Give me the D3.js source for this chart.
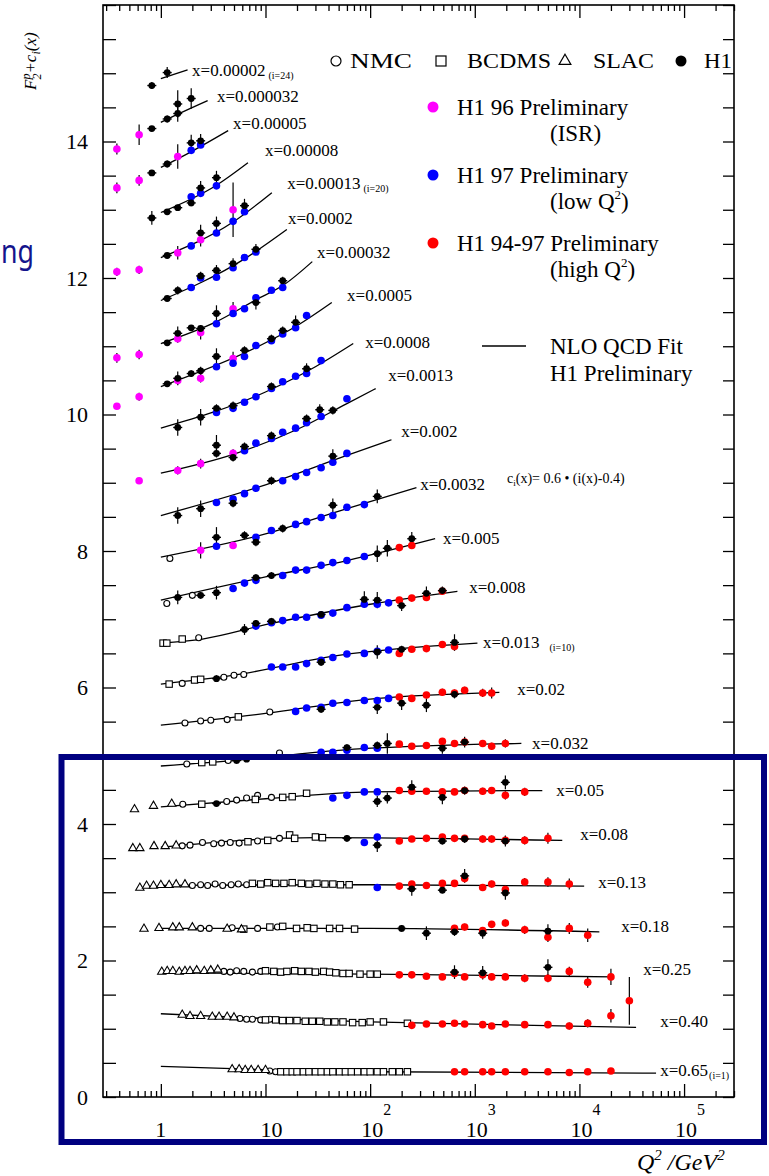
<!DOCTYPE html>
<html><head><meta charset="utf-8">
<script src="https://cdn.jsdelivr.net/npm/d3@7"></script>
<style>
body{margin:0;background:#fff;}
svg{display:block;}
text{font-family:"Liberation Serif","Times New Roman",serif;fill:#000;}
text.slide{font-family:"Noto Sans","Open Sans",sans-serif;fill:#14148c;}
</style>
</head><body>
<svg id="c" width="769" height="1176"></svg>
<script>
// ---------------- DATA ----------------
// bin i = 1..24 (index 0..23)
const binX = ["0.65","0.40","0.25","0.18","0.13","0.08","0.05","0.032","0.02","0.013","0.008","0.005",
  "0.0032","0.002","0.0013","0.0008","0.0005","0.00032","0.0002","0.00013","0.00008","0.00005","0.000032","0.00002"];
const binSub = ["(i=1)","","","","","","","","","(i=10)","","","","","","","","","","(i=20)","","","","(i=24)"];
// label anchor in data coordinates [Q2, F2+c]
const labelAt = [[59200,0.40],[59200,1.11],[40700,1.88],[25070,2.51],[15110,3.15],[10170,3.85],[6000,4.50],
  [3530,5.19],[2540,5.98],[1200,6.67],[883,7.47],[498,8.19],[301,8.98],[198,9.76],[149,10.58],[89.6,11.06],
  [60.2,11.75],[31.1,12.38],[16.4,12.88],[16.1,13.39],[9.9,13.88],[4.9,14.27],[3.44,14.67],[1.99,15.05]];

// NLO QCD fit curves, [Q2, F2+c]
const fitCurves = [
 [[1,0.45],[10,0.40],[100,0.37],[54000,0.35]],
 [[1,1.22],[10,1.15],[100,1.10],[34800,1.02]],
 [[1,1.82],[100,1.80],[20600,1.76]],
 [[1,2.47],[100,2.47],[15500,2.42]],
 [[1,3.10],[100,3.11],[11100,3.09]],
 [[1,3.66],[30,3.80],[6855,3.76]],
 [[1,4.25],[10,4.37],[100,4.47],[4418,4.49]],
 [[1,4.85],[5,4.93],[50,5.08],[2787,5.18]],
 [[1,5.45],[10,5.62],[100,5.83],[1717,5.93]],
 [[1,6.05],[5,6.18],[50,6.47],[1060,6.65]],
 [[1,6.65],[2.5,6.71],[10,6.92],[100,7.22],[682,7.41]],
 [[1,7.28],[10,7.62],[60,7.86],[418,8.18]],
 [[1,7.91],[10,8.25],[60,8.62],[277,8.93]],
 [[1,8.52],[10,8.97],[60,9.40],[160,9.63]],
 [[1,9.14],[5,9.42],[20,9.78],[60,10.16],[113,10.38]],
 [[1,9.80],[10,10.33],[30,10.70],[69,11.04]],
 [[1,10.41],[8.1,10.98],[20,11.30],[43,11.64]],
 [[1,11.04],[3.4,11.36],[8.1,11.68],[15,11.90],[28,12.24]],
 [[1,11.67],[6.3,12.28],[16,12.71]],
 [[1,12.30],[4.9,12.82],[11.5,13.25]],
 [[1,12.96],[3.4,13.36],[6.8,13.69]],
 [[1,13.62],[2,13.86],[4.4,14.16]],
 [[1,14.28],[1.45,14.40],[2.8,14.60]],
 [[1,14.92],[1.8,15.05]]
];

// H1 (published) - black, [Q2, value, error]
const h1Data = [
 [0.82,14.82,0.05],[1.15,15.01,0.08],
 [0.82,14.19,0.04],[1.15,14.33,0.05],[1.45,14.41,0.12],[1.45,14.55,0.2],[1.95,14.63,0.15],
 [0.82,13.54,0.04],[1.15,13.67,0.05],[1.95,13.98,0.12],[2.4,14.01,0.1],
 [0.82,12.88,0.1],[1.15,12.97,0.04],[1.45,13.03,0.04],[1.95,13.10,0.05],[2.4,13.32,0.1],[3.4,13.47,0.1],
 [1.15,12.33,0.04],[2.4,12.66,0.12],[3.4,12.80,0.1],[6.3,13.06,0.1],
 [1.15,11.70,0.04],[1.45,11.82,0.06],[2.4,12.03,0.06],[3.4,12.11,0.08],[4.9,12.21,0.08],[8.1,12.42,0.08],
 [1.15,11.05,0.04],[1.45,11.19,0.1],[1.95,11.27,0.04],[2.4,11.26,0.05],[3.4,11.48,0.12],[8.1,11.64,0.1],[14.6,11.96,0.06],
 [1.15,10.45,0.04],[1.45,10.53,0.1],[1.95,10.60,0.05],[2.4,10.64,0.06],[3.4,10.85,0.12],[6.3,10.94,0.06],[11.4,11.11,0.06],[14.6,11.23,0.06],[19.4,11.35,0.1],
 [1.45,9.81,0.12],[2.4,9.96,0.12],[3.4,10.09,0.06],[4.9,10.13,0.06],[11.4,10.41,0.06],[24.7,10.67,0.08],
 [3.4,9.55,0.15],[3.4,9.43,0.06],[4.9,9.37,0.06],[6.3,9.53,0.06],[11.4,9.69,0.06],[24.7,9.94,0.06],[33,10.07,0.08],[44,10.06,0.06],
 [1.45,8.52,0.12],[2.4,8.62,0.12],[4.9,8.70,0.06],[11.4,9.03,0.06],[44,9.39,0.1],
 [3.4,8.20,0.15],[6.3,8.23,0.06],[8.1,8.13,0.06],[14.6,8.33,0.06],[44,8.67,0.1],[117,8.80,0.1],
 [1.45,7.32,0.1],[2.4,7.35,0.05],[3.4,7.39,0.1],[8.1,7.61,0.05],[11.4,7.64,0.05],[117,7.96,0.12],[146,8.04,0.12],[250,8.18,0.1],
 [6.3,6.85,0.08],[8.1,6.94,0.05],[11.4,6.97,0.05],[34,7.07,0.05],[88,7.29,0.12],[117,7.28,0.12],[200,7.20,0.08],[345,7.38,0.1],[490,7.42,0.06],
 [3.4,6.13,0.05],[34,6.37,0.05],[117,6.52,0.1],[200,6.56,0.05],[640,6.66,0.12],
 [34,5.68,0.05],[117,5.71,0.1],[200,5.77,0.1],[345,5.74,0.1],[640,5.90,0.06],
 [5.3,4.93,0.04],[6.6,4.95,0.04],[60,5.12,0.05],[117,5.15,0.06],[146,5.18,0.15],[490,5.11,0.08],[800,5.20,0.08],
 [3.4,4.30,0.04],[117,4.33,0.08],[146,4.38,0.08],[250,4.54,0.1],[490,4.39,0.1],[800,4.49,0.06],[1960,4.61,0.1],
 [60,3.79,0.05],[117,3.69,0.1],[490,3.75,0.05],[800,3.78,0.06],[1960,3.75,0.08],
 [250,3.05,0.1],[490,3.03,0.05],[800,3.24,0.1],[1960,2.99,0.1],
 [200,2.47,0.05],[345,2.40,0.1],[640,2.42,0.06],[1190,2.40,0.08],[5000,2.43,0.1],
 [640,1.83,0.1],[1190,1.82,0.1],[5000,1.90,0.12]
];
// H1 96 Preliminary (ISR) - magenta
const h1IsrData = [
 [0.38,13.89,0.08],[0.62,14.10,0.15],
 [0.38,13.32,0.08],[0.62,13.43,0.08],[1.45,13.78,0.18],
 [0.38,12.09,0.06],[0.62,12.12,0.06],[1.45,12.37,0.1],[2.4,12.56,0.1],[4.9,13.00,0.4],
 [0.38,10.83,0.07],[0.62,10.88,0.07],[1.45,11.11,0.06],[2.4,11.20,0.1],[4.9,11.55,0.1],
 [0.38,10.12,0.04],[0.62,10.26,0.06],[1.45,10.50,0.06],[2.4,10.53,0.06],[4.9,10.82,0.1],
 [0.62,9.03,0.05],[1.45,9.18,0.06],[2.4,9.28,0.07],[4.9,9.43,0.06],
 [2.4,8.01,0.12],[4.9,8.08,0.05]
];
// H1 97 Preliminary (low Q2) - blue
const h1LowData = [
 [1.95,13.87,0.04],[2.4,13.95,0.04],
 [1.95,13.19,0.04],[2.4,13.24,0.04],[3.4,13.35,0.04],
 [1.95,12.47,0.04],[3.4,12.66,0.04],[4.9,12.83,0.04],[6.3,12.97,0.04],
 [1.95,11.86,0.04],[2.4,12.00,0.04],[3.4,12.01,0.04],[4.9,12.15,0.04],[6.3,12.30,0.04],[8.1,12.38,0.04],
 [3.4,11.33,0.04],[4.9,11.48,0.04],[6.3,11.55,0.04],[8.1,11.71,0.04],[11.4,11.82,0.04],[14.6,11.86,0.04],
 [3.4,10.70,0.04],[4.9,10.75,0.04],[6.3,10.85,0.04],[8.1,11.01,0.04],[11.4,11.08,0.04],[14.6,11.18,0.04],[19.4,11.27,0.04],[24.7,11.45,0.04],
 [3.4,10.03,0.04],[4.9,10.09,0.04],[6.3,10.18,0.04],[8.1,10.26,0.04],[11.4,10.38,0.04],[14.6,10.48,0.04],[19.4,10.56,0.04],[24.7,10.60,0.04],[34,10.79,0.04],
 [6.3,9.47,0.04],[8.1,9.58,0.04],[11.4,9.65,0.04],[14.6,9.74,0.04],[19.4,9.80,0.04],[24.7,9.88,0.04],[34,9.97,0.04],[60,10.23,0.04],
 [3.4,8.71,0.04],[4.9,8.76,0.04],[6.3,8.84,0.04],[8.1,8.92,0.04],[14.6,9.03,0.04],[19.4,9.09,0.04],[24.7,9.15,0.04],[34,9.22,0.04],[44,9.30,0.04],[60,9.43,0.04],
 [3.4,8.07,0.04],[8.1,8.20,0.04],[11.4,8.30,0.04],[19.4,8.39,0.04],[24.7,8.43,0.04],[34,8.49,0.04],[44,8.52,0.04],[60,8.64,0.04],[88,8.68,0.04],
 [4.9,7.45,0.04],[6.3,7.53,0.04],[8.1,7.57,0.04],[14.6,7.64,0.04],[19.4,7.72,0.04],[24.7,7.72,0.04],[34,7.79,0.04],[44,7.83,0.04],[60,7.86,0.04],[88,7.92,0.04],
 [8.1,6.90,0.04],[11.4,6.95,0.04],[14.6,6.98,0.04],[19.4,7.03,0.04],[24.7,7.03,0.04],[34,7.06,0.04],[44,7.09,0.04],[60,7.17,0.04],[88,7.22,0.04],[117,7.22,0.04],[150,7.24,0.04],
 [11.4,6.30,0.04],[14.6,6.30,0.04],[19.4,6.30,0.04],[24.7,6.35,0.04],[34,6.40,0.04],[44,6.44,0.04],[60,6.49,0.04],[88,6.50,0.04],[117,6.53,0.04],[150,6.55,0.04],
 [19.4,5.65,0.04],[24.7,5.70,0.04],[34,5.71,0.04],[44,5.77,0.04],[60,5.78,0.04],[88,5.81,0.04],[117,5.81,0.04],[150,5.84,0.04],
 [34,5.05,0.04],[44,5.05,0.04],[60,5.08,0.04],[88,5.12,0.04],[117,5.11,0.04],
 [44,4.38,0.04],[60,4.42,0.04],[88,4.47,0.04],[117,4.47,0.04],
 [88,3.73,0.04],[117,3.81,0.04],
 [117,3.07,0.04]
];
// H1 94-97 Preliminary (high Q2) - red
const h1HighData = [
 [190,8.05,0.04],[250,8.08,0.04],
 [190,7.28,0.04],[250,7.31,0.04],[345,7.32,0.05],[490,7.41,0.05],
 [190,6.50,0.04],[250,6.56,0.04],[345,6.57,0.05],[490,6.63,0.05],[640,6.60,0.06],
 [190,5.86,0.04],[250,5.84,0.04],[345,5.89,0.04],[490,5.93,0.05],[640,5.92,0.05],[800,5.96,0.05],[1190,5.92,0.06],[1450,5.92,0.08],
 [190,5.17,0.04],[250,5.14,0.04],[345,5.15,0.04],[490,5.21,0.04],[640,5.18,0.04],[800,5.20,0.05],[1190,5.18,0.05],[1450,5.14,0.05],[1960,5.18,0.06],
 [190,4.49,0.04],[250,4.48,0.04],[345,4.48,0.04],[490,4.47,0.04],[640,4.47,0.04],[800,4.49,0.05],[1190,4.48,0.05],[1450,4.49,0.05],[1960,4.42,0.06],[3000,4.47,0.06],
 [190,3.75,0.04],[250,3.78,0.04],[345,3.79,0.04],[490,3.81,0.04],[640,3.79,0.04],[800,3.79,0.04],[1190,3.78,0.05],[1450,3.78,0.05],[1960,3.76,0.06],[3000,3.76,0.06],[5000,3.79,0.08],
 [190,3.09,0.04],[250,3.12,0.04],[345,3.10,0.04],[490,3.13,0.04],[640,3.13,0.04],[800,3.20,0.05],[1190,3.07,0.05],[1450,3.12,0.05],[1960,3.04,0.06],[3000,3.15,0.06],[5000,3.15,0.07],[8000,3.12,0.08],
 [640,2.47,0.05],[800,2.49,0.05],[1190,2.44,0.05],[1450,2.53,0.05],[1960,2.55,0.05],[3000,2.45,0.06],[5000,2.34,0.07],[8000,2.47,0.08],[12000,2.37,0.1],
 [190,1.79,0.04],[250,1.79,0.04],[345,1.77,0.04],[490,1.76,0.04],[640,1.81,0.04],[800,1.76,0.04],[1190,1.79,0.05],[1450,1.76,0.05],[1960,1.76,0.05],[3000,1.74,0.06],[5000,1.74,0.06],[8000,1.84,0.07],[12000,1.68,0.08],[20000,1.76,0.12],
 [250,1.05,0.03],[345,1.07,0.03],[490,1.07,0.03],[640,1.08,0.03],[800,1.07,0.03],[1190,1.06,0.03],[1450,1.04,0.03],[1960,1.07,0.03],[3000,1.06,0.04],[5000,1.06,0.04],[8000,1.04,0.05],[12000,1.08,0.06],[20000,1.19,0.1],[30000,1.41,0.35],
 [640,0.37,0.02],[800,0.37,0.02],[1190,0.37,0.02],[1450,0.37,0.02],[1960,0.37,0.02],[3000,0.37,0.02],[5000,0.37,0.02],[8000,0.36,0.02],[12000,0.37,0.02],[20000,0.38,0.03]
];
// NMC - open circles [Q2, value]
const nmcData = [
 [1.22,7.89],
 [1.14,7.23],[2.0,7.35],
 [2.3,6.73],
 [1.6,6.06],[4.0,6.15],[5.0,6.18],[6.2,6.19],
 [1.7,5.48],[2.4,5.51],[3.0,5.52],[4.3,5.53],[11,5.64],
 [1.77,4.88],[4.4,4.93],[13.6,5.04],
 [1.62,4.29],[4.26,4.33],[5.3,4.35],[6.6,4.38],[8.4,4.42],[11.4,4.39],
 [1.6,3.68],[1.9,3.69],[2.5,3.73],[3.2,3.71],[3.8,3.72],[4.6,3.73],[5.6,3.72],[8.4,3.75],[13.6,3.79],
 [2.0,3.10],[2.4,3.11],[2.8,3.10],[3.3,3.12],[3.9,3.10],[4.7,3.11],[5.5,3.12],[6.6,3.11],
 [2.4,2.47],[2.9,2.47],[4.8,2.48],[8.4,2.47],[13,2.49],
 [4.0,1.84],[4.6,1.83],[5.3,1.85],[6.2,1.84],[7.5,1.83],[9,1.84],
 [5.7,1.15],[6.6,1.14],[7.5,1.14],[9,1.13],[11,1.14],
 [11,0.38],[12.5,0.37]
];
// BCDMS - open squares
const bcdmsData = [
 [1.05,6.65],[1.14,6.65],[1.6,6.71],
 [1.2,6.05],[2.1,6.11],[2.4,6.12],
 [5.5,5.57],
 [2.46,4.90],[3.13,4.91],
 [2.46,4.29],[8.0,4.36],[14.6,4.39],[18,4.40],[24.7,4.45],
 [6.8,3.74],[10.5,3.76],[17,3.84],[19,3.79],[30,3.81],[35,3.80],
 [7.5,3.13],[9,3.12],[10.5,3.14],[12.5,3.13],[15,3.13],[18,3.14],[22,3.13],[26,3.12],[31,3.13],[37,3.12],[44,3.12],[52,3.11],[63,3.11],
 [6.2,2.46],[11,2.49],[14.6,2.50],[19.8,2.47],[25,2.48],[29,2.47],[41,2.47],[51,2.47],[71,2.46],
 [10,1.85],[12,1.84],[14,1.83],[16,1.84],[19,1.85],[22,1.84],[26,1.84],[30,1.83],[36,1.84],[41,1.83],[47,1.82],[55,1.81],[63,1.81],[80,1.80],[100,1.80],[117,1.80],
 [10,1.13],[12.5,1.13],[14.6,1.12],[17,1.12],[20,1.12],[24,1.11],[28,1.11],[33,1.11],[39,1.10],[46,1.10],[55,1.10],[68,1.09],[84,1.09],[100,1.10],[134,1.10],[227,1.08],
 [14,0.37],[16,0.37],[18,0.37],[20,0.37],[23,0.37],[26,0.37],[30,0.37],[34,0.37],[39,0.37],[44,0.37],[51,0.37],[58,0.37],[66,0.37],[76,0.37],[88,0.37],[100,0.37],[117,0.37],[134,0.37],[163,0.37],[190,0.37],[227,0.37]
];
// SLAC - open triangles
const slacData = [
 [0.56,4.20],[0.85,4.25],[1.27,4.28],
 [0.54,3.63],[0.63,3.63],[0.86,3.66],[1.1,3.66],[1.4,3.67],
 [0.63,3.05],[0.73,3.08],[0.85,3.08],[1.0,3.09],[1.2,3.09],[1.4,3.10],[1.7,3.10],
 [0.69,2.45],[0.96,2.46],[1.3,2.47],[1.5,2.47],[2.0,2.47],[4.3,2.45],[5.9,2.44],
 [1.02,1.82],[1.15,1.83],[1.3,1.83],[1.5,1.82],[1.7,1.83],[1.9,1.83],[2.2,1.84],[2.6,1.83],[3.0,1.84],[3.5,1.85],
 [1.6,1.19],[1.9,1.17],[2.4,1.17],[3.1,1.16],[3.6,1.16],[4.3,1.16],[5.0,1.15],
 [4.8,0.39],[5.6,0.39],[6.4,0.38],[7.3,0.38],[8.5,0.38],[10,0.38]
];
const yTickLabels = [0,2,4,6,8,10,12,14];
const xTickExps = [0,1,2,3,4,5];

// ---------------- DRAWING ----------------
const svg = d3.select("#c");
const X0 = 103, X1 = 734, Y0 = 5, Y1 = 1097;
const x = d3.scaleLog().domain([0.28, 3e5]).range([X0, X1]);
const y = d3.scaleLinear().domain([0, 16]).range([Y1, Y0]);

svg.append("defs").append("clipPath").attr("id","plotclip")
  .append("rect").attr("x",X0).attr("y",Y0).attr("width",X1-X0).attr("height",Y1-Y0);

// axes
const allX = x.ticks();
const majorX = allX.filter(d => Math.abs(Math.log10(d) - Math.round(Math.log10(d))) < 1e-9);
const minorX = allX.filter(d => !majorX.includes(d));
const yTicks = d3.range(0, 16.001, 0.5);

function styleAxis(g){ g.select(".domain").remove(); g.selectAll(".tick line").attr("stroke","#000").attr("stroke-width",1.3); }

svg.append("g").attr("transform",`translate(${X0},0)`)
  .call(d3.axisLeft(y).tickValues(yTicks).tickSize(-13).tickPadding(15)
    .tickFormat(d => yTickLabels.includes(d) ? String(d) : ""))
  .call(styleAxis)
  .call(g => g.selectAll("text").style("font-family","Liberation Serif").attr("font-size",22).attr("fill","#000"));
svg.append("g").attr("transform",`translate(${X1},0)`)
  .call(d3.axisRight(y).tickValues(yTicks).tickSize(-11).tickFormat(""))
  .call(styleAxis);
svg.append("g").attr("transform",`translate(0,${Y1})`)
  .call(d3.axisBottom(x).tickValues(minorX).tickSize(-6).tickFormat("")).call(styleAxis);
svg.append("g").attr("transform",`translate(0,${Y1})`)
  .call(d3.axisBottom(x).tickValues(majorX).tickSize(-13).tickFormat("")).call(styleAxis);
svg.append("g").attr("transform",`translate(0,${Y0})`)
  .call(d3.axisTop(x).tickValues(minorX).tickSize(-6).tickFormat("")).call(styleAxis);
svg.append("g").attr("transform",`translate(0,${Y0})`)
  .call(d3.axisTop(x).tickValues(majorX).tickSize(-13).tickFormat("")).call(styleAxis);

// frame
svg.append("rect").attr("x",X0).attr("y",Y0).attr("width",X1-X0).attr("height",Y1-Y0)
  .attr("fill","none").attr("stroke","#000").attr("stroke-width",1.6);

// x tick labels
const xl = svg.append("g");
xTickExps.forEach(n => {
  const px = x(Math.pow(10,n));
  const base = n === 0 ? "1" : "10";
  xl.append("text").attr("x", px + (n===0?0:(n===1?6:2))).attr("y",1137).attr("text-anchor","middle")
    .attr("font-size",22).text(base);
  if (n >= 2) xl.append("text").attr("x", px + 13).attr("y",1115).attr("font-size",16).text(String(n));
});

// axis titles
const xt = svg.append("text").attr("x",637).attr("y",1170).attr("font-size",24).attr("font-style","italic");
xt.append("tspan").text("Q");
xt.append("tspan").attr("dy",-10).attr("font-size",15).text("2");
xt.append("tspan").attr("dy",10).text(" /GeV");
xt.append("tspan").attr("dy",-10).attr("font-size",15).text("2");

const yt = svg.append("text").attr("transform","translate(36,90) rotate(-90)").attr("font-size",17).attr("font-style","italic");
yt.append("tspan").text("F");
yt.append("tspan").attr("dy",-6).attr("font-size",12).text("p");
yt.append("tspan").attr("dx",-6).attr("dy",11).attr("font-size",12).text("2");
yt.append("tspan").attr("dy",-5).text("+c");
yt.append("tspan").attr("dy",4).attr("font-size",12).text("i");
yt.append("tspan").attr("dy",-4).text("(x)");

// fit curves
const line = d3.line().x(d => x(d[0])).y(d => y(d[1])).curve(d3.curveMonotoneX);
svg.append("g").selectAll("path").data(fitCurves).join("path")
  .attr("d", line).attr("fill","none").attr("stroke","#000").attr("stroke-width",1.3);

// bin labels
const lg = svg.append("g").attr("clip-path","url(#plotclip)");
binX.forEach((lab, i) => {
  const t = lg.append("text").attr("x", x(labelAt[i][0])).attr("y", y(labelAt[i][1]) + 6).attr("font-size",17);
  t.append("tspan").text("x=" + lab);
  if (binSub[i]) t.append("tspan").attr("dx", i===0?1:(i===9?10:3)).attr("dy",3).attr("font-size",10).text(binSub[i]);
});

// error bars
const eg = svg.append("g").attr("stroke","#000").attr("stroke-width",1.2);
function errBars(data, minErr){
  data.filter(d => d[2] > minErr).forEach(d => {
    eg.append("line").attr("x1",x(d[0])).attr("x2",x(d[0])).attr("y1",y(d[1]-d[2])).attr("y2",y(d[1]+d[2]));
  });
}
errBars(h1Data, 0.045); errBars(h1IsrData, 0.05); errBars(h1HighData, 0.045); errBars(h1LowData, 0.05);

// open symbols
const mg = svg.append("g");
mg.selectAll(".nmc").data(nmcData).join("circle").attr("cx",d=>x(d[0])).attr("cy",d=>y(d[1])).attr("r",3)
  .attr("fill","#fff").attr("stroke","#000").attr("stroke-width",1.1);
mg.selectAll(".bcdms").data(bcdmsData).join("rect").attr("x",d=>x(d[0])-3.2).attr("y",d=>y(d[1])-3.2)
  .attr("width",6.4).attr("height",6.4).attr("fill","#fff").attr("stroke","#000").attr("stroke-width",1.1);
const tri = d3.symbol().type(d3.symbolTriangle).size(30);
mg.selectAll(".slac").data(slacData).join("path").attr("d",tri)
  .attr("transform",d=>`translate(${x(d[0])},${y(d[1])-1})`).attr("fill","#fff").attr("stroke","#000").attr("stroke-width",1.1);

// filled symbols
function dots(data, col, r){
  mg.append("g").selectAll("circle").data(data).join("circle")
    .attr("cx",d=>x(d[0])).attr("cy",d=>y(d[1])).attr("r",r).attr("fill",col);
}
dots(h1IsrData,"#ff00ff",3.8);
dots(h1LowData,"#0000ff",3.8);
dots(h1HighData,"#ff0000",3.8);
dots(h1Data,"#000",3.4);
// H1 horizontal bar (cross look)
mg.append("g").selectAll("line").data(h1Data).join("line")
  .attr("x1",d=>x(d[0])-4.5).attr("x2",d=>x(d[0])+4.5).attr("y1",d=>y(d[1])).attr("y2",d=>y(d[1]))
  .attr("stroke","#000").attr("stroke-width",1.4);

// ---------- legend ----------
const L = svg.append("g");
L.append("circle").attr("cx",336).attr("cy",61).attr("r",5).attr("fill","#fff").attr("stroke","#000").attr("stroke-width",1.2);
L.append("rect").attr("x",436).attr("y",56).attr("width",10).attr("height",10).attr("fill","#fff").attr("stroke","#000").attr("stroke-width",1.2);
L.append("path").attr("d",d3.symbol().type(d3.symbolTriangle).size(60)).attr("transform","translate(565,61)")
  .attr("fill","#fff").attr("stroke","#000").attr("stroke-width",1.2);
L.append("circle").attr("cx",681).attr("cy",61).attr("r",5.5).attr("fill","#000");
[["NMC",350,62],["BCDMS",467,84],["SLAC",593,61],["H1",704,28]].forEach(([t,px,w]) => {
  L.append("text").attr("x",px).attr("y",68).attr("font-size",22).attr("textLength",w)
    .attr("lengthAdjust","spacingAndGlyphs").text(t);
});
L.append("circle").attr("cx",433).attr("cy",107).attr("r",5.5).attr("fill","#ff00ff");
L.append("circle").attr("cx",433).attr("cy",175).attr("r",5.5).attr("fill","#0000ff");
L.append("circle").attr("cx",433).attr("cy",243).attr("r",5.5).attr("fill","#ff0000");
function ltext(str, px, py, fs){ return L.append("text").attr("x",px).attr("y",py).attr("font-size",fs||23).text(str); }
ltext("H1 96 Preliminary",457,115);
ltext("(ISR)",550,141);
ltext("H1 97 Preliminary",457,183);
const lq = ltext("(low Q",550,209); lq.append("tspan").attr("dy",-10).attr("font-size",13).text("2"); lq.append("tspan").attr("dy",10).text(")");
ltext("H1 94-97 Preliminary",457,251);
const hq = ltext("(high Q",550,277); hq.append("tspan").attr("dy",-10).attr("font-size",13).text("2"); hq.append("tspan").attr("dy",10).text(")");
L.append("line").attr("x1",482).attr("x2",526).attr("y1",346).attr("y2",346).attr("stroke","#000").attr("stroke-width",1.3);
ltext("NLO QCD Fit",550,354);
ltext("H1 Preliminary",550,381);
const ci = ltext("c",507,483,14);
ci.append("tspan").attr("dy",3).attr("font-size",9).text("i");
ci.append("tspan").attr("dy",-3).text("(x)= 0.6 \u2022 (i(x)-0.4)");

// ---------- slide overlay ----------
svg.append("text").attr("class","slide").attr("x",1).attr("y",263).attr("font-size",32)
  .attr("textLength",33).attr("lengthAdjust","spacingAndGlyphs").text("ng");
svg.append("rect").attr("x",61.5).attr("y",757).attr("width",702.5).attr("height",385)
  .attr("fill","none").attr("stroke","#000080").attr("stroke-width",6);
</script>
</body></html>
